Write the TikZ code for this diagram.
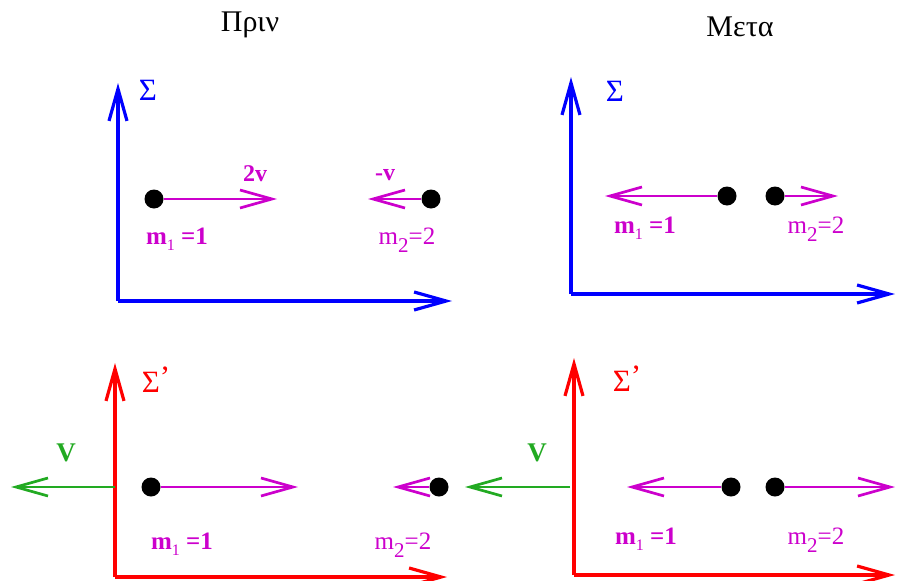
\documentclass[tikz,border=0pt]{standalone}
\usepackage{fontspec}
\setmainfont{Liberation Serif}
\usetikzlibrary{positioning,arrows.meta}
\definecolor{axblue}{HTML}{0000FF}
\definecolor{axred}{HTML}{FF0000}
\definecolor{mgnt}{HTML}{CC00CC}
\definecolor{vgreen}{HTML}{22AA22}
\newcommand{\msize}{\fontsize{25}{27}\selectfont}
\newcommand{\msubA}[1]{\raisebox{-6pt}{\fontsize{16}{16}\selectfont\mdseries #1}}
\newcommand{\msubB}[1]{\raisebox{-8pt}{\fontsize{21}{21}\selectfont #1}}

\begin{document}
\begin{tikzpicture}[x=1pt,y=-1pt,
    barb/.style={-{Straight Barb[length=32pt,width=18pt]}},
    axis/.style={barb,line width=3.2pt},
    vel/.style={barb,mgnt,line width=2.7pt},
    frame/.style={barb,vgreen,line width=2.7pt},
    ball/.style={circle,fill=black,inner sep=0pt,minimum size=19pt},
    title/.style={font=\fontsize{30}{32}\selectfont},
    sig/.style={font=\fontsize{31}{33}\selectfont},
    mlbl/.style={mgnt,font=\msize},
    vlbl/.style={mgnt,font=\fontsize{24}{26}\selectfont\bfseries},
    flbl/.style={vgreen,font=\fontsize{27}{29}\selectfont\bfseries}]
    \useasboundingbox (0,0) rectangle (897,581);
    \node[title] (before) at (250,25) {Πριν};
    \node[title] (after) at (740,27) {Μετα};
    \coordinate (oA) at (118,301); \coordinate (yA) at (118,83); \coordinate (xA) at (452,301);
    \draw[axis,axblue] (oA)--(yA); \draw[axis,axblue] (oA)--(xA);
    \node[sig,axblue] (sigA) at (148,90) {Σ};
    \node[ball] (dA1) at (154,199) {}; \coordinate (uA1) at (277,199);
    \node[ball] (dA2) at (431,199) {}; \coordinate (uA2) at (368,199);
    \draw[vel] (dA1)--(uA1); \draw[vel] (dA2)--(uA2);
    \node[vlbl] (vA1) at (255,174) {2v};
    \node[vlbl] (vA2) at (385,175) {-v};
    \node[mlbl] (mA1) at (177,239) {\textbf{m\msubA{1} =1}};
    \node[mlbl] (mA2) at (407,240) {m\msubB{2}=2};
    \coordinate (oB) at (571,294); \coordinate (yB) at (571,77); \coordinate (xB) at (895,294);
    \draw[axis,axblue] (oB)--(yB); \draw[axis,axblue] (oB)--(xB);
    \node[sig,axblue] (sigB) at (615,91) {Σ};
    \node[ball] (dB1) at (727,196) {}; \coordinate (uB1) at (605,196);
    \node[ball] (dB2) at (775,196) {}; \coordinate (uB2) at (838,196);
    \draw[vel] (dB1)--(uB1); \draw[vel] (dB2)--(uB2);
    \node[mlbl] (mB1) at (645,228) {\textbf{m\msubA{1} =1}};
    \node[mlbl] (mB2) at (816,229) {m\msubB{2}=2};
    \coordinate (oC) at (115,577); \coordinate (yC) at (115,363); \coordinate (xC) at (447,577);
    \draw[axis,axred] (oC)--(yC); \draw[axis,axred] (oC)--(xC);
    \node[sig,axred] (sigC) at (156,380) {Σ\raisebox{5pt}{’}};
    \coordinate (fC) at (115,487); \coordinate (gC) at (11,487);
    \draw[frame] (fC)--(gC);
    \node[flbl] (VC) at (66,453) {V};
    \node[ball] (dC1) at (151,487) {}; \coordinate (uC1) at (298,487);
    \node[ball] (dC2) at (439,487) {}; \coordinate (uC2) at (393,487);
    \draw[vel] (dC1)--(uC1); \draw[vel] (dC2)--(uC2);
    \node[mlbl] (mC1) at (182,544) {\textbf{m\msubA{1} =1}};
    \node[mlbl] (mC2) at (403,545) {m\msubB{2}=2};
    \coordinate (oD) at (574,575); \coordinate (yD) at (574,358); \coordinate (xD) at (895,575);
    \draw[axis,axred] (oD)--(yD); \draw[axis,axred] (oD)--(xD);
    \node[sig,axred] (sigD) at (627,379) {Σ\raisebox{5pt}{’}};
    \coordinate (fD) at (570,487); \coordinate (gD) at (465,487);
    \draw[frame] (fD)--(gD);
    \node[flbl] (VD) at (537,453) {V};
    \node[ball] (dD1) at (731,487) {}; \coordinate (uD1) at (627,487);
    \node[ball] (dD2) at (775,487) {}; \coordinate (uD2) at (895,487);
    \draw[vel] (dD1)--(uD1); \draw[vel] (dD2)--(uD2);
    \node[mlbl] (mD1) at (646,539) {\textbf{m\msubA{1} =1}};
    \node[mlbl] (mD2) at (816,540) {m\msubB{2}=2};
  \end{tikzpicture}
\end{document}
